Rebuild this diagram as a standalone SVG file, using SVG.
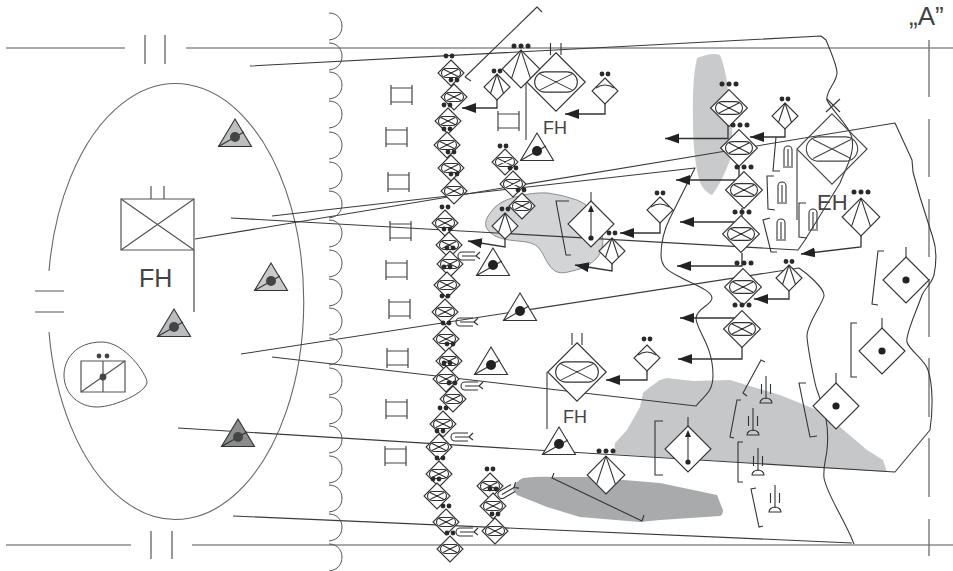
<svg xmlns="http://www.w3.org/2000/svg" width="953" height="571" viewBox="0 0 953 571">
<style>
path,circle,line,polyline,rect,polygon{vector-effect:non-scaling-stroke}
svg{background:#fff}
.l{fill:none;stroke:#3a3a3a;stroke-width:1.1;stroke-linejoin:round}
.g{fill:none;stroke:#555;stroke-width:1.2}
.a{fill:none;stroke:#333;stroke-width:1.3;marker-end:url(#arw)}
.k{fill:none;stroke:#333;stroke-width:1.1}
.wf{fill:#fff;stroke:#333;stroke-width:1.1}
.nf{fill:none;stroke:#444;stroke-width:1.1}
.dd{fill:#2a2a2a;stroke:none}
text{font-family:"Liberation Sans",Arial,sans-serif;fill:#444}
</style>
<defs>
<marker id="arw" markerUnits="userSpaceOnUse" markerWidth="15" markerHeight="11" viewBox="0 0 15 11" refX="14" refY="5" orient="auto"><path d="M0,0 L14,5 L0,10 Z" fill="#222"/></marker>
<g id="d2"><circle cx="-3" r="2.4" class="dd"/><circle cx="3" r="2.4" class="dd"/></g>
<g id="d3"><circle cx="-7" r="2.5" class="dd"/><circle r="2.5" class="dd"/><circle cx="7" r="2.5" class="dd"/></g>
<g id="inf"><path class="wf" d="M0,-13 L13,0 L0,13 L-13,0 Z"/><path class="k" d="M-5,-4.500 H5 A4.500,4.500 0 0 1 5,4.500 H-5 A4.500,4.500 0 0 1 -5,-4.500 Z M-7,-3.500 L7,3.500 M-7,3.500 L7,-3.500"/></g>
<g id="infn"><path class="nf" d="M0,-13 L13,0 L0,13 L-13,0 Z"/><path class="nf" d="M-5,-4.500 H5 A4.500,4.500 0 0 1 5,4.500 H-5 A4.500,4.500 0 0 1 -5,-4.500 Z M-7,-3.500 L7,3.500 M-7,3.500 L7,-3.500"/></g>
<g id="fan"><path class="wf" d="M0,-13 L13,0 L0,13 L-13,0 Z"/><path class="k" d="M0,-13 L-6.500,6.500 M0,-13 L6.500,6.500"/></g>
<g id="wed"><path class="wf" d="M0,-13 L13,0 L0,13 L-13,0 Z"/><path class="k" d="M-9,-3 Q0,-9 9,-3"/></g>
<g id="dia"><path class="wf" d="M0,-23 L23,0 L0,23 L-23,0 Z"/><circle r="3.600" fill="#222"/><line y1="-23" y2="-33" class="k"/></g>
<g id="tri"><path d="M0,0 L16.500,27.500 H-16.500 Z" stroke="#333" stroke-width="1.1"/><path d="M-16.500,27.500 L9,13" stroke="#333" stroke-width="1.1" fill="none"/></g>
<g id="lad"><path class="g" style="stroke:#444" d="M0,0 V20 M21,0 V20 M0,3 H21 M0,17 H21"/></g>
<g id="sc"><path class="g" d="M329,0 C338,0 342,7 342,13 C342,20 338,26 329,27" style="stroke-width:1"/></g>
<g id="mis"><path class="k" d="M6,-4 H-7 A4,4 0 0 0 -7,4 H6 M-7,0 H7 M7,0 L11,-4 M7,0 L11,3"/></g>
<g id="tall"><path class="k" d="M-4,-1 V-17 A4,4 0 0 1 4,-17 V-1 M-5,0 H5 M0,-18 V-1"/></g>
<g id="dome"><path class="k" d="M-6,0 A6,5 0 0 1 6,0 Z M0,-4 V-27 M-4.500,-19 V-9 M4.500,-19 V-9"/></g>
</defs>

<g id="areas">
<path fill="#c9cacc" d="M697,58 Q713,52 720,55 Q726,70 728,90 Q735,140 730,160 Q722,182 712,195 Q704,192 700,182 Q693,160 693,120 Q692,80 697,58Z"/>
<path fill="#d3d4d6" stroke="#777" stroke-width=".8" d="M491,212 Q497,202 515,197 Q533,192 548,193 Q563,195 577,200 Q590,205 597,218 Q603,230 603,241 Q602,253 596,259 Q590,265 583,268 Q577,270 568,272 Q560,274 555,271 Q550,268 546,260 Q543,253 538,247 Q533,242 518,241 Q503,240 495,236 Q488,232 486,227 Q484,220 491,212Z"/>
<path fill="#c6c7c9" d="M660,380 L667,378 L693,381 L730,380 L780,395 L817,410 L840,427 L867,450 L883,460 L887,472 L660,457 L614,454 L615,443 L627,430 L640,407 L643,393 L650,387 Z"/>
<path fill="#a9aaac" d="M513,490 Q514,482 523,478 Q540,476 553,477 L587,477 L660,483 L717,495 Q720,503 723,510 Q723,515 720,516 L660,520 L640,522 L580,517 L547,507 L517,495 Z"/>
</g>

<g id="connectors">
<path class="g" d="M6,48 H125 M186,48 H953 M6,545 H131 M192,545 H953 M145,35 V64 M165,35 V64 M151,531 V559 M172,531 V559 M35,291 H64 M35,312 H64"/>
<path class="g" d="M929,40 V97 M929,119 V177 M929,199 V257 M929,279 V337 M929,358 V417 M929,438 V497 M929,519 V556" style="stroke-width:1.4;stroke:#777"/>
<path class="l" d="M49,271 A128,218 0 1 1 49,332" style="stroke:#666"/>
<path class="l" d="M250,66 L821,36 L826,40 C830,50 837,65 837,73 C837,82 825,92 827,100 C830,108 848,125 851,135 C857,150 845,170 840,183 L805,240 L798,250 L231,218"/>
<path class="l" d="M195,239 L895,123 L912,160 L913,172 L920,197 L933,238 C937,250 936,265 934,275 C931,285 925,288 922,295 C917,310 905,335 907,342 C909,350 925,360 928,370 C933,385 933,410 930,430 L895,472 L178,428"/>
<path class="l" d="M241,354 L799,268 C805,272 825,288 824,296 C822,305 806,325 807,337 C808,350 815,385 817,390 C822,405 830,420 827,450 C826,460 823,465 824,478 C827,495 845,520 854,544"/>
<path class="l" d="M272,357 L696,406 C705,395 713,392 713,375 C713,345 696,330 696,318 C697,308 712,305 712,298 C712,290 690,283 680,277 C670,272 661,268 661,255 C661,240 665,228 670,218 L695,168 L272,216"/>
<path class="l" d="M233,516 L852,543"/>
<path class="l" d="M465,77 L471,81 M465,77 L537,7 L542,12"/>
<path class="l" d="M526,83 V140 M547,372 V429 M797,150 V220 M194,250 V312 M591,192 V201"/>
<polyline class="a" points="497,100 497,108 462,108"/>
<polyline class="a" points="605,104 605,114 565,114"/>
<polyline class="a" points="505,239 505,247 468,241"/>
<polyline class="a" points="612,264 612,271 575,265"/>
<polyline class="a" points="660,223 660,233 620,233"/>
<polyline class="a" points="647,371 647,380 606,380"/>
<polyline class="a" points="728,125 728,138.500 665,138.500"/>
<polyline class="a" points="739,166 739,180 676,180"/>
<polyline class="a" points="742,208 742,222 680,222"/>
<polyline class="a" points="742,253 742,266 677,266"/>
<polyline class="a" points="737,318 680,318"/>
<polyline class="a" points="742,347 742,359 678,359"/>
<polyline class="a" points="785,129 785,137 750,137"/>
<polyline class="a" points="861,235 861,247 801,254"/>
<polyline class="a" points="789,291 789,299 754,299"/>
</g>

<g id="brackets">
<path class="k" d="M569,201 H556 L566,255 H571 M776,137 L773,171 H780 M774,176 H767 L768,209 L775,210 M770,218 L763,220 L771,252 H777 M806,203 H799 V237 L807,238 M884,251 H878 L872,304 L878,305 M857,323 H851 V377 H857 M806,383 L799,383 L810,437 L817,436 M663,421 H655 V475 H663 M765,362 L761,360 L743,393 L747,396 M741,400 H737 L730,437 L734,438 M743,442 H738 V482 H743 M756,488 L751,489 L759,527 L763,526"/>
<path class="k" d="M554,473 L552,478 L642,521 L644,515"/>
</g>

<g id="sc-line">
<use href="#sc" y="13"/><use href="#sc" y="43"/><use href="#sc" y="72"/><use href="#sc" y="101"/><use href="#sc" y="132"/><use href="#sc" y="162"/><use href="#sc" y="191"/><use href="#sc" y="220"/><use href="#sc" y="250"/><use href="#sc" y="279"/><use href="#sc" y="308"/><use href="#sc" y="338"/><use href="#sc" y="368"/><use href="#sc" y="397"/><use href="#sc" y="426"/><use href="#sc" y="456"/><use href="#sc" y="485"/><use href="#sc" y="514"/><use href="#sc" y="544"/>
</g>

<g id="ladders">
<use href="#lad" x="391" y="85"/><use href="#lad" x="386" y="127"/><use href="#lad" x="388" y="172"/><use href="#lad" x="390" y="221"/><use href="#lad" x="386" y="260"/><use href="#lad" x="389" y="299"/><use href="#lad" x="387" y="348"/><use href="#lad" x="386" y="399"/><use href="#lad" x="385" y="446"/><use href="#lad" x="498" y="111"/>
</g>

<g id="i1"><use href="#inf" x="451" y="73"/><use href="#d2" x="449" y="56"/></g>
<g id="i2"><use href="#inf" x="454" y="97"/><use href="#d2" x="454" y="80"/></g>
<g id="i3"><use href="#inf" x="448" y="121"/><use href="#d2" x="447" y="105"/></g>
<g id="i4"><use href="#inf" x="447" y="145"/><use href="#d2" x="447" y="129"/></g>
<g id="i5"><use href="#inf" x="451" y="168"/><use href="#d2" x="451" y="152"/></g>
<g id="i6"><use href="#inf" x="454" y="191"/><use href="#d2" x="454" y="174"/></g>
<g id="i7"><use href="#inf" x="445" y="223"/><use href="#d2" x="445" y="207"/></g>
<g id="i8"><use href="#inf" x="449" y="245"/><use href="#d2" x="447" y="229"/></g>
<g id="i9"><use href="#inf" x="450" y="264"/><use href="#d2" x="450" y="248"/></g>
<g id="i10"><use href="#inf" x="447" y="285"/><use href="#d2" x="447" y="267"/></g>
<g id="i11"><use href="#inf" x="445" y="312"/><use href="#d2" x="445" y="296"/></g>
<g id="i12"><use href="#inf" x="446" y="339"/><use href="#d2" x="446" y="323"/></g>
<g id="i13"><use href="#inf" x="449" y="361"/><use href="#d2" x="450" y="344"/></g>
<g id="i14"><use href="#inf" x="446" y="379"/><use href="#d2" x="447" y="363"/></g>
<g id="i15"><use href="#inf" x="453" y="399"/><use href="#d2" x="452" y="383"/></g>
<g id="i16"><use href="#inf" x="443" y="424"/><use href="#d2" x="443" y="408"/></g>
<g id="i17"><use href="#inf" x="439" y="447"/><use href="#d2" x="440" y="431"/></g>
<g id="i18"><use href="#inf" x="439" y="474"/><use href="#d2" x="440" y="458"/></g>
<g id="i19"><use href="#inf" x="437" y="496"/><use href="#d2" x="436" y="479"/></g>
<g id="i20"><use href="#inf" x="446" y="522"/><use href="#d2" x="446" y="506"/></g>
<g id="i21"><use href="#inf" x="450" y="549"/><use href="#d2" x="450" y="533"/></g>
<g id="j1"><use href="#inf" x="505" y="162"/><use href="#d2" x="503" y="146"/></g>
<g id="j2"><use href="#inf" x="513" y="184"/><use href="#d2" x="513" y="168"/></g>
<g id="j3"><use href="#inf" x="522" y="206"/><use href="#d2" x="521" y="190"/></g>
<g id="j4"><use href="#inf" x="490" y="486"/><use href="#d2" x="490" y="469"/></g>
<g id="j5"><use href="#inf" x="493" y="506"/><use href="#d2" x="493" y="489"/></g>
<g id="j6"><use href="#inf" x="495" y="531"/><use href="#d2" x="495" y="514"/></g>

<g id="m1"><use href="#inf" transform="translate(729,108) scale(1.42)"/><use href="#d3" x="729" y="84"/></g>
<g id="m2"><use href="#inf" transform="translate(739,148) scale(1.42)"/><use href="#d3" x="740" y="125"/></g>
<g id="m3"><use href="#inf" transform="translate(744,190) scale(1.42)"/><use href="#d3" x="744" y="167"/></g>
<g id="m4"><use href="#inf" transform="translate(741,234) scale(1.42)"/><use href="#d3" x="742" y="212"/></g>
<g id="m5"><use href="#inf" transform="translate(743,287) scale(1.42)"/><use href="#d3" x="744" y="263"/></g>
<g id="m6"><use href="#inf" transform="translate(742,329) scale(1.42)"/><use href="#d3" x="742" y="305"/></g>

<g id="L1"><use href="#inf" transform="translate(556,82) scale(2.25)"/><path class="k" d="M550.500,43 V55 M561,43 V55"/></g>
<g id="L2"><use href="#inf" transform="translate(577,372) scale(2.25)"/><path class="k" d="M572,333 V345 M582,333 V345"/></g>
<g id="L3"><use href="#infn" transform="translate(832,149) scale(2.7)"/><path class="k" d="M826,112 L840,99 M827,99 L840,112"/></g>

<g id="f1"><use href="#fan" transform="translate(521,69) scale(1.45)"/><use href="#d3" x="521" y="46"/></g>
<g id="f2"><use href="#fan" x="497" y="87"/><use href="#d2" x="497" y="71"/></g>
<g id="f3"><use href="#fan" x="505" y="226"/><use href="#d2" x="505" y="209"/></g>
<g id="f4"><use href="#fan" x="612" y="251"/><use href="#d2" x="612" y="233"/></g>
<g id="f5"><use href="#fan" x="785" y="116"/><use href="#d2" x="785" y="99"/></g>
<g id="f6"><use href="#fan" transform="translate(861,217) scale(1.45)"/><use href="#d3" x="861" y="192"/></g>
<g id="f7"><use href="#fan" x="789" y="278"/><use href="#d2" x="789" y="261.500"/></g>
<g id="f8"><use href="#fan" transform="translate(606,475) scale(1.45)"/><use href="#d3" x="606" y="451"/></g>

<g id="w1"><use href="#wed" x="605" y="91"/><use href="#d2" x="605" y="74"/></g>
<g id="w2"><use href="#wed" x="660" y="210"/><use href="#d2" x="660" y="193"/></g>
<g id="w3"><use href="#wed" x="647" y="358"/><use href="#d2" x="647" y="339"/></g>

<g id="d1"><use href="#dia" x="906" y="280"/></g>
<g id="d4"><use href="#dia" x="882" y="351"/></g>
<g id="d5"><use href="#dia" x="836" y="406"/></g>
<g id="ad1"><path class="wf" d="M591,201 L614,224 L591,247 L568,224 Z"/><circle cx="591" cy="238" r="2.600" fill="#222"/><path class="k" d="M591,238 V208"/><path d="M591,205 L594,212 H588 Z" fill="#222"/></g>
<g id="ad2"><path class="wf" d="M688,426 L711,449 L688,472 L665,449 Z"/><circle cx="688" cy="462" r="2.600" fill="#222"/><path class="k" d="M688,462 V433 M688,426 V417"/><path d="M688,430 L691,437 H685 Z" fill="#222"/></g>

<g id="t1"><use href="#tri" x="537" y="133" fill="#fff"/><circle cx="537" cy="151" r="5" fill="#222"/></g>
<g id="t2"><use href="#tri" x="493" y="248" fill="#fff"/><circle cx="493" cy="265" r="5" fill="#222"/></g>
<g id="t3"><use href="#tri" x="520" y="293" fill="#fff"/><circle cx="520" cy="311" r="5" fill="#222"/></g>
<g id="t4"><use href="#tri" x="491" y="347" fill="#fff"/><circle cx="491" cy="365" r="5" fill="#222"/></g>
<g id="t5"><use href="#tri" x="559" y="427" fill="#fff"/><circle cx="559" cy="444" r="5" fill="#222"/></g>
<g id="t6"><use href="#tri" x="235" y="119" fill="#bdbec0"/><circle cx="235" cy="137" r="5" fill="#444"/></g>
<g id="t7"><use href="#tri" x="271" y="263" fill="#c9cacc"/><circle cx="271" cy="281" r="5" fill="#444"/></g>
<g id="t8"><use href="#tri" x="174" y="309" fill="#bbbcbe"/><circle cx="174" cy="327" r="5" fill="#444"/></g>
<g id="t9"><use href="#tri" x="238" y="419" fill="#8b8c8e"/><circle cx="238" cy="437" r="5" fill="#444"/></g>

<g id="missiles">
<use href="#mis" x="469" y="256"/><use href="#mis" x="467" y="322"/><use href="#mis" x="472" y="386"/><use href="#mis" x="462" y="437"/><use href="#mis" x="467" y="532"/><use href="#mis" transform="translate(508,491) rotate(-30)"/>
<use href="#tall" x="788" y="167"/><use href="#tall" x="782" y="203"/><use href="#tall" x="781" y="240"/><use href="#tall" x="813" y="230"/>
<use href="#dome" x="766" y="403"/><use href="#dome" x="753" y="435"/><use href="#dome" x="758" y="475"/><use href="#dome" x="775" y="512"/>
</g>

<g id="hq">
<rect class="g" x="121" y="199" width="73" height="51"/>
<path class="g" d="M121,199 L194,250 M121,250 L194,199 M151,186 V199 M164,186 V199"/>
</g>
<g id="inset">
<path class="g" style="stroke-width:1" d="M64,375 C64,360 75,342 102,342 C125,342 147,375 147,382 C147,392 115,407 97,407 C80,407 64,395 64,375Z"/>
<rect class="g" x="81" y="361" width="44" height="31"/>
<path class="g" d="M81,392 L125,361 M103,361 V392"/>
<circle cx="103" cy="377" r="3.400" fill="#444"/>
<circle cx="99" cy="356" r="2.400" fill="#444"/><circle cx="107" cy="356" r="2.400" fill="#444"/>
</g>

<g id="labels">
<text x="139" y="287" font-size="25">FH</text>
<text x="543" y="134" font-size="18">FH</text>
<text x="563" y="423" font-size="18">FH</text>
<text x="817" y="210" font-size="22">EH</text>
<text x="909" y="25" font-size="26">„A”</text>
</g>
</svg>
